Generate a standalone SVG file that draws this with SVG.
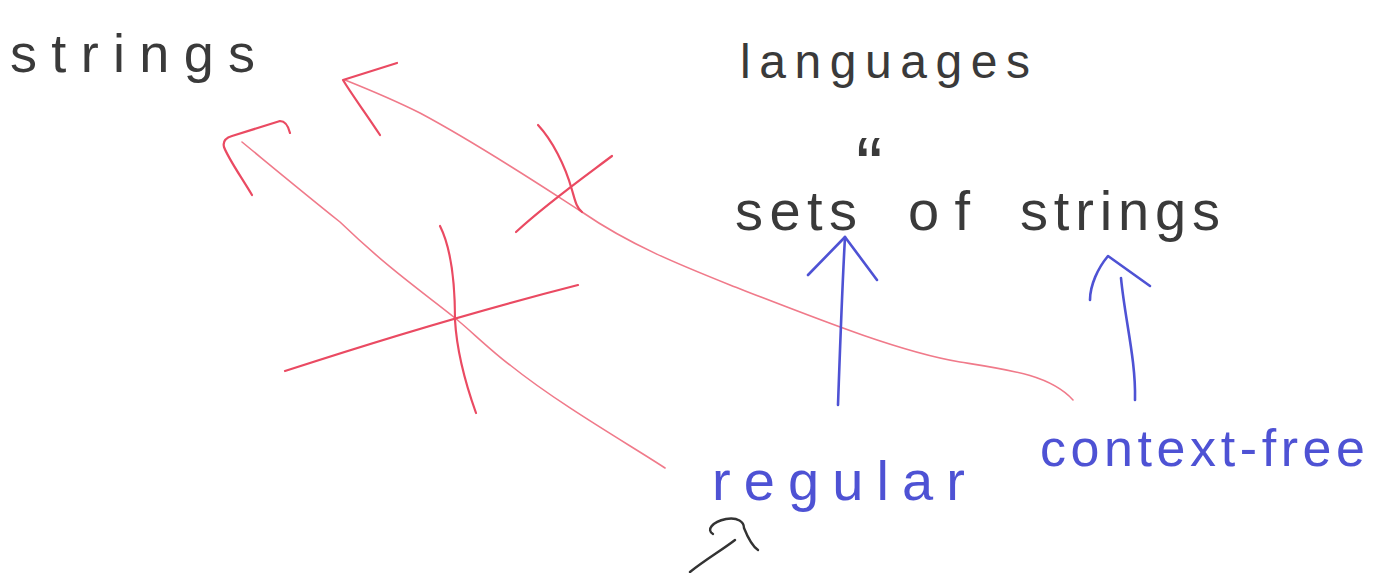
<svg xmlns="http://www.w3.org/2000/svg" width="1373" height="573" viewBox="0 0 1373 573">
<style>
.ink{font-family:"Liberation Sans","DejaVu Sans",sans-serif;fill:#3a3a3a;}
.blue{font-family:"Liberation Sans","DejaVu Sans",sans-serif;fill:#4e52d4;}
.red{fill:none;stroke:#ea4a62;stroke-width:2.2;stroke-linecap:round;stroke-linejoin:round;}
.pink{fill:none;stroke:#f07a8a;stroke-width:1.6;stroke-linecap:round;stroke-linejoin:round;}
.bl{fill:none;stroke:#4e52d4;stroke-width:2.6;stroke-linecap:round;stroke-linejoin:round;}
.blk{fill:none;stroke:#333;stroke-width:2.4;stroke-linecap:round;stroke-linejoin:round;}
</style>
<rect width="1373" height="573" fill="#ffffff"/>
<g id="strings"><text class="ink" x="10" y="72" font-size="54" textLength="245" lengthAdjust="spacing">strings</text></g>
<g id="languages"><text class="ink" x="740" y="78" font-size="48" textLength="290" lengthAdjust="spacing">languages</text></g>
<g id="ditto"><text class="ink" x="856" y="193" font-size="80">“</text></g>
<g id="sets-of-strings">
<text class="ink" x="735" y="230" font-size="56" textLength="122" lengthAdjust="spacing">sets</text>
<text class="ink" x="908" y="230" font-size="56" textLength="62" lengthAdjust="spacing">of</text>
<text class="ink" x="1020" y="230" font-size="56" textLength="200" lengthAdjust="spacing">strings</text>
</g>
<g id="regular"><text class="blue" x="712" y="500" font-size="56" textLength="253" lengthAdjust="spacing">regular</text></g>
<g id="context-free"><text class="blue" x="1040" y="466" font-size="52" textLength="325" lengthAdjust="spacing">context-free</text></g>
<g id="connectors">
<path class="pink" d="M665 468 C630 445 560 405 510 365 C490 350 470 330 455 318 C420 290 390 270 340 222 C300 190 270 165 242 142"/>
<path class="red" d="M252 195 C240 175 228 158 224 147 Q222 139 232 136 L280 121 Q287 121 290 133"/>
<path class="pink" d="M1073 400 C1050 375 1010 370 960 362 C900 352 820 320 730 285 C680 265 630 245 582 212 C540 185 480 145 420 113 C390 98 365 88 345 80"/>
<path class="red" d="M380 135 C365 112 352 95 343 80 L397 63"/>
<path class="red" d="M538 125 C552 140 565 165 572 190 C575 200 576 207 582 212"/>
<path class="red" d="M516 232 C545 205 580 180 612 156"/>
<path class="red" d="M440 226 C452 250 455 290 455 320 C457 355 466 385 476 413"/>
<path class="red" d="M285 371 C380 340 480 310 578 285"/>
<path class="bl" d="M838 405 C840 350 842 290 845 237"/>
<path class="bl" d="M808 275 L845 237 L877 280"/>
<path class="bl" d="M1135 400 C1136 360 1125 320 1121 278"/>
<path class="bl" d="M1090 300 C1090 285 1098 268 1108 256 L1150 286"/>
<path class="blk" d="M690 572 C705 560 722 550 735 540"/>
<path class="blk" d="M713 534 C706 530 712 522 726 519 C738 517 744 522 744 528 C748 538 752 546 758 550"/>
</g>
</svg>
